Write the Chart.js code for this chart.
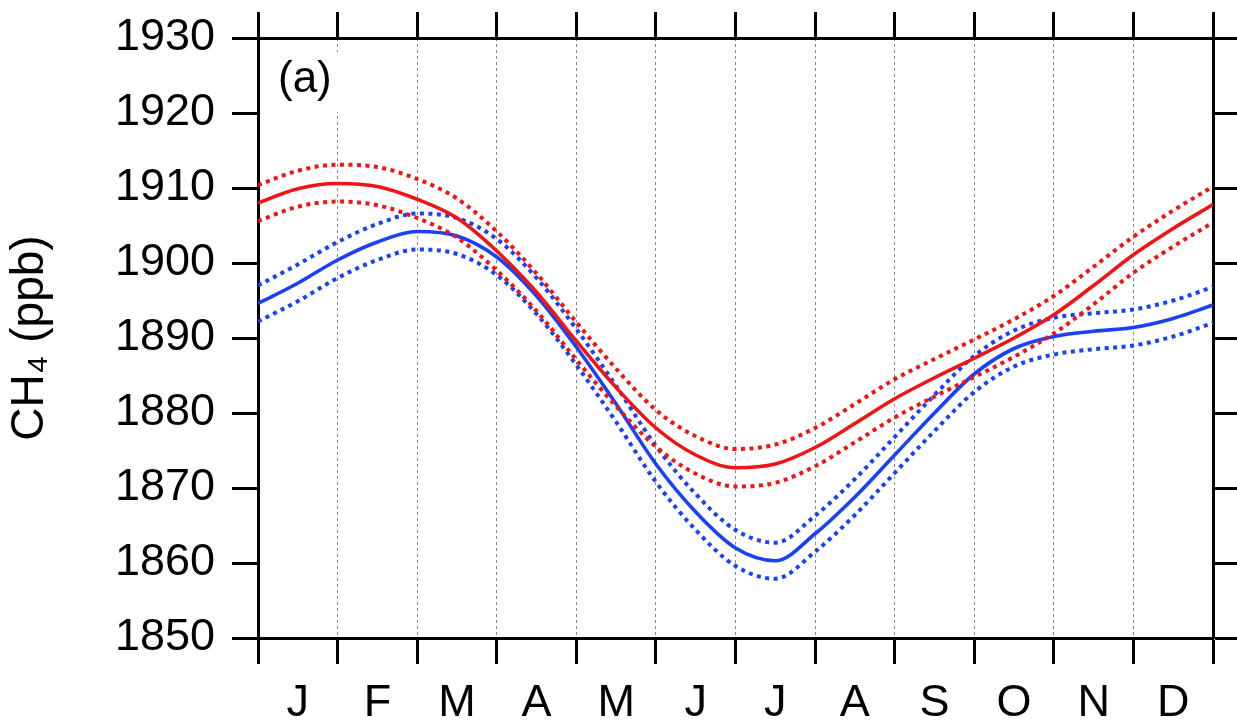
<!DOCTYPE html>
<html>
<head>
<meta charset="utf-8">
<script src="https://cdn.jsdelivr.net/npm/chart.js@4/dist/chart.umd.min.js"></script>
<style>
  html, body { margin: 0; padding: 0; background: #fff; }
  #wrap { width: 1237px; height: 727px; position: relative; }
</style>
</head>
<body>
<div id="wrap"><canvas id="ch4_chart"></canvas></div>
<script>
var monthLabels = ["J", "F", "M", "A", "M", "J", "J", "A", "S", "O", "N", "D"];
var monthPos = [0, 0.5, 1, 1.5, 2, 2.5, 3, 3.5, 4, 4.5, 5, 5.5, 6, 6.5, 7, 7.5, 8, 8.5, 9, 9.5, 10, 10.5, 11, 11.5, 12];
var yTicks = [1850, 1860, 1870, 1880, 1890, 1900, 1910, 1920, 1930];

// red series (mean and upper / lower bounds)
var redMean  = [1908, 1909.9, 1910.6, 1910.2, 1908.5, 1906.0, 1901.6, 1896.1, 1889.6, 1883.4, 1878.0, 1874.4, 1872.7, 1873.2, 1875.4, 1878.6, 1881.9, 1884.7, 1887.3, 1890.0, 1893.1, 1897.0, 1901.1, 1904.6, 1907.8];
var redUpper = [1910.4, 1912.3, 1913.1, 1912.8, 1911.2, 1908.6, 1904.2, 1898.6, 1892.1, 1885.9, 1880.4, 1876.9, 1875.2, 1875.8, 1878.0, 1881.2, 1884.5, 1887.2, 1889.8, 1892.5, 1895.6, 1899.5, 1903.5, 1907.0, 1910.2];
var redLower = [1905.6, 1907.5, 1908.2, 1907.7, 1906.0, 1903.4, 1899.0, 1893.6, 1887.1, 1880.9, 1875.5, 1871.9, 1870.2, 1870.7, 1872.9, 1876.1, 1879.4, 1882.2, 1884.8, 1887.5, 1890.6, 1894.5, 1898.7, 1902.2, 1905.4];

// blue series
var blueMean  = [1894.6, 1897.3, 1900.4, 1902.8, 1904.2, 1903.6, 1900.8, 1895.6, 1888.8, 1881.2, 1873.2, 1866.8, 1862.0, 1860.3, 1863.9, 1868.8, 1874.4, 1880.0, 1885.2, 1888.6, 1890.2, 1890.9, 1891.4, 1892.6, 1894.4];
var blueUpper = [1897.0, 1899.8, 1902.8, 1905.2, 1906.6, 1906.0, 1903.2, 1898.0, 1891.2, 1883.6, 1875.6, 1869.2, 1864.4, 1862.7, 1866.3, 1871.2, 1876.8, 1882.4, 1887.6, 1891.0, 1892.7, 1893.3, 1893.8, 1895.0, 1896.8];
var blueLower = [1892.2, 1894.9, 1898.0, 1900.4, 1901.8, 1901.2, 1898.4, 1893.2, 1886.4, 1878.8, 1870.8, 1864.4, 1859.6, 1857.9, 1861.5, 1866.4, 1872.0, 1877.6, 1882.8, 1886.2, 1887.8, 1888.5, 1889.0, 1890.2, 1892.0];

var RED = 'rgb(240, 20, 20)';
var BLUE = 'rgb(25, 65, 245)';
var FONT = "'Liberation Sans', Arial, sans-serif";

function pts(values) {
    return values.map(function (v, i) { return { x: monthPos[i], y: v }; });
}

function line(values, color, dotted) {
    return {
        data: pts(values),
        borderColor: color,
        borderWidth: dotted ? 4 : 3.6,
        borderDash: dotted ? [4, 4.5] : [],
        borderCapStyle: 'butt',
        pointRadius: 0,
        cubicInterpolationMode: 'monotone',
        fill: false
    };
}

function isMonthEdge(v) {
    return Math.abs(v - Math.round(v)) < 1e-6;
}

// "(a)" panel tag with a white box behind it
var panelTag = {
    id: 'panelTag',
    beforeDatasetsDraw: function (chart) {
        var ctx = chart.ctx, a = chart.chartArea;
        ctx.save();
        ctx.font = "44px " + FONT;
        var w = ctx.measureText('(a)').width;
        ctx.fillStyle = '#fff';
        ctx.fillRect(a.left + 12, a.top + 14, w + 18, 60);
        ctx.fillStyle = '#000';
        ctx.textBaseline = 'middle';
        ctx.fillText('(a)', a.left + 20, a.top + 42);
        ctx.restore();
    }
};

var config = {
    type: 'line',
    data: {
        datasets: [
            line(redMean, RED, false),
            line(redUpper, RED, true),
            line(redLower, RED, true),
            line(blueMean, BLUE, false),
            line(blueUpper, BLUE, true),
            line(blueLower, BLUE, true)
        ]
    },
    options: {
        responsive: true,
        maintainAspectRatio: false,
        animation: false,
        layout: { padding: 0 },
        plugins: { legend: { display: false }, tooltip: { enabled: false } },
        scales: {
            x: {
                type: 'linear', position: 'bottom', min: 0, max: 12,
                afterBuildTicks: function (scale) {
                    scale.ticks = monthPos.map(function (v) { return { value: v }; });
                },
                afterFit: function (scale) {
                    scale.height = 89;
                    scale.paddingLeft = 0; scale.paddingRight = 0;
                },
                ticks: {
                    autoSkip: false, maxRotation: 0, padding: 13,
                    color: '#000', font: { family: FONT, size: 45 },
                    callback: function (v) { return isMonthEdge(v) ? '' : monthLabels[Math.floor(v)]; }
                },
                grid: {
                    color: function (c) {
                        var v = c.tick ? c.tick.value : 0;
                        return (isMonthEdge(v) && v > 0 && v < 12) ? '#8a8a8a' : 'rgba(0,0,0,0)';
                    },
                    lineWidth: 1,
                    tickLength: 26, tickWidth: 3,
                    tickColor: function (c) {
                        return (c.tick && isMonthEdge(c.tick.value)) ? '#000' : 'rgba(0,0,0,0)';
                    }
                },
                border: { display: true, color: '#000', width: 3, dash: [3, 3] }
            },
            xTop: {
                type: 'linear', position: 'top', min: 0, max: 12,
                afterBuildTicks: function (scale) {
                    scale.ticks = monthPos.filter(isMonthEdge).map(function (v) { return { value: v }; });
                },
                afterFit: function (scale) {
                    scale.height = 38;
                    scale.paddingLeft = 0; scale.paddingRight = 0;
                },
                ticks: { display: false },
                grid: { drawOnChartArea: false, tickLength: 26, tickWidth: 3, tickColor: '#000' },
                border: { display: true, color: '#000', width: 3 }
            },
            y: {
                type: 'linear', position: 'left', min: 1850, max: 1930,
                afterBuildTicks: function (scale) {
                    scale.ticks = yTicks.map(function (v) { return { value: v }; });
                },
                afterFit: function (scale) {
                    scale.width = 258;
                    scale.paddingTop = 0; scale.paddingBottom = 0;
                },
                ticks: {
                    padding: 17, color: '#000', font: { family: FONT, size: 45 },
                    callback: function (v) { return String(v); }
                },
                grid: { drawOnChartArea: false, tickLength: 26, tickWidth: 3, tickColor: '#000' },
                border: { display: true, color: '#000', width: 3 },
                title: {
                    display: true, text: 'CH\u2084 (ppb)', color: '#000',
                    font: { family: FONT, size: 46 }, padding: { top: 3, bottom: 0 }
                }
            },
            yRight: {
                type: 'linear', position: 'right', min: 1850, max: 1930,
                afterBuildTicks: function (scale) {
                    scale.ticks = yTicks.map(function (v) { return { value: v }; });
                },
                afterFit: function (scale) {
                    scale.width = 24;
                    scale.paddingTop = 0; scale.paddingBottom = 0;
                },
                ticks: { display: false },
                grid: { drawOnChartArea: false, tickLength: 24, tickWidth: 3, tickColor: '#000' },
                border: { display: true, color: '#000', width: 3 }
            }
        }
    },
    plugins: [panelTag]
};

new Chart(document.getElementById('ch4_chart').getContext('2d'), config);
</script>
</body>
</html>
